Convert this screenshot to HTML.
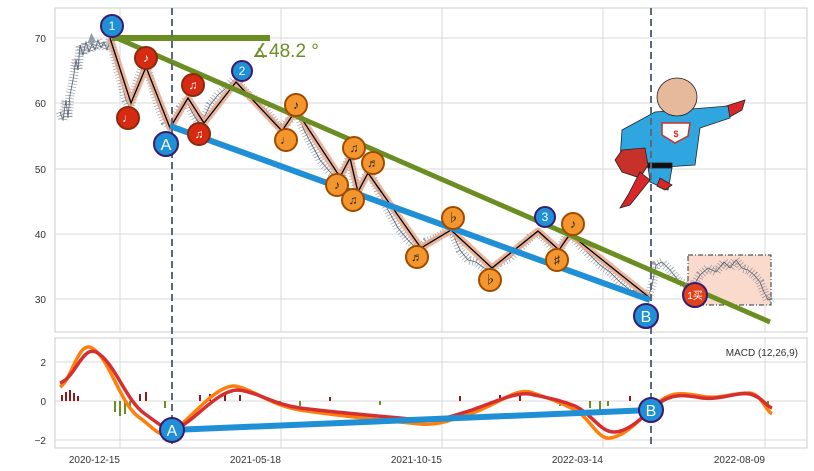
<!DOCTYPE html>
<html><head><meta charset="utf-8"><style>
body{margin:0;background:#fff;}
svg{display:block;font-family:"Liberation Sans","Noto Sans CJK SC",sans-serif;}
</style></head><body>
<svg width="814" height="471" viewBox="0 0 814 471" xmlns="http://www.w3.org/2000/svg">
<rect width="814" height="471" fill="#fff"/>
<rect x="55" y="8" width="752" height="324" fill="#fff" stroke="#ccc"/>
<g stroke="#d9d9d9" stroke-width="1">
<line x1="55" y1="38" x2="807" y2="38"/><line x1="55" y1="103" x2="807" y2="103"/><line x1="55" y1="169" x2="807" y2="169"/><line x1="55" y1="234" x2="807" y2="234"/><line x1="55" y1="299" x2="807" y2="299"/>
<line x1="120" y1="8" x2="120" y2="332"/><line x1="281" y1="8" x2="281" y2="332"/><line x1="442" y1="8" x2="442" y2="332"/><line x1="603" y1="8" x2="603" y2="332"/><line x1="765" y1="8" x2="765" y2="332"/>
</g>
<g font-size="10" fill="#333" text-anchor="end">
<text x="46" y="42">70</text><text x="46" y="107">60</text><text x="46" y="173">50</text><text x="46" y="238">40</text><text x="46" y="303">30</text>
</g>
<rect x="688" y="255" width="83" height="50" fill="#f9dacd" stroke="#333" stroke-dasharray="5,2,1,2"/>
<!-- price -->
<g fill="none" stroke="#556070">
<polyline stroke-width="0.8" points="60,112 63,120 66,100 68,118 70,95 73,80 76,60 78,70 80,45 83,55 86,42 89,52 92,44 95,50 98,40 101,48 104,42 107,50 110,40 114,55 118,70 122,85 126,100 130,108 134,92 138,80 142,68 146,64 150,78 155,95 160,110 165,122 170,126 175,118 180,108 186,100 192,112 198,122 204,118 210,105 218,95 226,88 234,80 240,85 248,95 256,100 264,108 272,118 280,128 288,122 296,110 304,130 312,145 320,160 330,172 340,180 346,165 350,158 354,180 358,190 364,178 370,172 378,190 388,210 398,228 408,240 418,250 426,242 436,238 446,232 452,232 460,250 468,260 476,262 484,268 492,270 500,262 510,258 520,248 530,238 538,232 546,240 554,250 560,248 566,238 572,236 580,245 590,255 600,265 610,272 620,282 630,290 640,292 648,298 652,285 656,265 662,262 670,270 678,280 686,285 694,285 700,275 708,268 716,272 724,262 730,268 736,260 742,268 748,270 754,275 760,282 764,292 768,300 772,298"/>
<polyline stroke-width="9" stroke-dasharray="0.7,2.3" stroke-opacity="0.6" points="60,112 63,120 66,100 68,118 70,95 73,80 76,60 78,70 80,45 83,55 86,42 89,52 92,44 95,50 98,40 101,48 104,42 107,50 110,40 114,55 118,70 122,85 126,100 130,108 134,92 138,80 142,68 146,64 150,78 155,95 160,110 165,122 170,126 175,118 180,108 186,100 192,112 198,122 204,118 210,105 218,95 226,88 234,80 240,85 248,95 256,100 264,108 272,118 280,128 288,122 296,110 304,130 312,145 320,160 330,172 340,180 346,165 350,158 354,180 358,190 364,178 370,172 378,190 388,210 398,228 408,240 418,250 426,242 436,238 446,232 452,232 460,250 468,260 476,262 484,268 492,270 500,262 510,258 520,248 530,238 538,232 546,240 554,250 560,248 566,238 572,236 580,245 590,255 600,265 610,272 620,282 630,290 640,292 648,298 652,285 656,265 662,262 670,270 678,280 686,285 694,285 700,275 708,268 716,272 724,262 730,268 736,260 742,268 748,270 754,275 760,282 764,292 768,300 772,298"/>
</g>
<polyline fill="none" stroke="#e8a98c" stroke-width="7" stroke-opacity="0.85" stroke-linejoin="round" points="110,38 131,103 146,67 170,128 188,98 204,123 236,82 282,131 296,110 340,177 350,158 358,192 368,173 421,248 451,230 492,268 538,231 559,250 570,234 650,298"/>
<polyline fill="none" stroke="#000" stroke-width="1.3" points="110,38 131,103 146,67 170,128 188,98 204,123 236,82 282,131 296,110 340,177 350,158 358,192 368,173 421,248 451,230 492,268 538,231 559,250 570,234 650,298"/>
<line x1="112" y1="38" x2="270" y2="38" stroke="#6b8e23" stroke-width="6"/>
<line x1="112" y1="36" x2="770" y2="322" stroke="#6b8e23" stroke-width="5"/>
<line x1="170" y1="126" x2="650" y2="300" stroke="#1f8fd6" stroke-width="6"/>
<text x="252" y="57" font-size="19" fill="#6b8e23">∡48.2 °</text>
<!-- superdog -->
<g stroke="#222" stroke-width="0.8">
<path d="M720,108 L745,100 L742,110 L728,118 Z" fill="#d8262b"/>
<path d="M655,112 L728,106 L730,118 L700,128 L695,165 L650,168 L620,160 L622,130 Z" fill="#2fa6e0"/>
<path d="M622,150 L645,148 L648,165 L640,178 L622,172 L615,160 Z" fill="#c8302a"/>
<path d="M648,166 L672,168 L668,190 L650,182 Z" fill="#2fa6e0"/>
<path d="M640,172 L628,195 L620,208 L630,205 L650,180 Z" fill="#d8262b"/>
<path d="M660,178 L672,185 L665,190 L657,186 Z" fill="#d8262b"/>
<rect x="648" y="163" width="24" height="5" fill="#111"/>
<path d="M662,123 L690,123 L688,136 L675,143 L662,135 Z" fill="#fff" stroke="#c8302a" stroke-width="1.5"/>
<ellipse cx="677" cy="97" rx="20" ry="19" fill="#e5b99a"/>
</g>
<text x="676" y="137" font-size="9" fill="#c8302a" text-anchor="middle" font-weight="bold">$</text>
<line x1="172" y1="8" x2="172" y2="448" stroke="#5a6a7a" stroke-width="2" stroke-dasharray="7,4"/>
<line x1="651" y1="8" x2="651" y2="448" stroke="#5a6a7a" stroke-width="2" stroke-dasharray="7,4"/>
<!-- markers -->
<g font-size="12" text-anchor="middle" fill="#fff">
<g stroke="#8b2a0a" stroke-width="2" fill="#d62a12">
<circle cx="128" cy="118" r="11"/><circle cx="146" cy="58" r="11"/><circle cx="193" cy="85" r="11"/><circle cx="199" cy="134" r="11"/></g>
<text x="128" y="122">♩</text><text x="146" y="62">♪</text><text x="193" y="89">♫</text><text x="199" y="138">♫</text>
<g stroke="#a04a00" stroke-width="2" fill="#f4962e">
<circle cx="286" cy="140" r="11"/><circle cx="296" cy="105" r="11"/><circle cx="337" cy="185" r="11"/><circle cx="354" cy="148" r="11"/><circle cx="353" cy="200" r="11"/><circle cx="373" cy="163" r="11"/><circle cx="417" cy="257" r="11"/><circle cx="453" cy="218" r="11"/><circle cx="490" cy="280" r="11"/><circle cx="557" cy="260" r="11"/><circle cx="573" cy="224" r="11"/></g>
<g fill="#222"><text x="286" y="144">♩</text><text x="296" y="109">♪</text><text x="337" y="189">♪</text><text x="354" y="152">♫</text><text x="353" y="204">♫</text><text x="373" y="167">♬</text><text x="417" y="261">♬</text><text x="453" y="222">♭</text><text x="490" y="284">♭</text><text x="557" y="264">♯</text><text x="573" y="228">♪</text></g>
<g stroke="#3a1a70" stroke-width="2" fill="#1f8fd6">
<circle cx="112" cy="26" r="11"/><circle cx="242" cy="71" r="10"/><circle cx="545" cy="217" r="10"/><circle cx="166" cy="144" r="12"/><circle cx="646" cy="316" r="12"/></g>
<text x="112" y="30">1</text><text x="242" y="75">2</text><text x="545" y="221">3</text>
<text x="166" y="150" font-size="16">A</text><text x="646" y="322" font-size="16">B</text>
<circle cx="695" cy="295" r="12" fill="#e0401a" stroke="#3a1a70" stroke-width="2"/>
<text x="695" y="299" font-size="10">1买</text>
</g>
<!-- bottom panel -->
<rect x="55" y="338" width="752" height="110" fill="#fff" stroke="#ccc"/>
<g stroke="#d9d9d9">
<line x1="55" y1="362" x2="807" y2="362"/><line x1="55" y1="401" x2="807" y2="401"/><line x1="55" y1="440" x2="807" y2="440"/>
<line x1="120" y1="338" x2="120" y2="448"/><line x1="281" y1="338" x2="281" y2="448"/><line x1="442" y1="338" x2="442" y2="448"/><line x1="603" y1="338" x2="603" y2="448"/><line x1="765" y1="338" x2="765" y2="448"/>
</g>
<line x1="172" y1="338" x2="172" y2="448" stroke="#5a6a7a" stroke-width="2" stroke-dasharray="7,4"/>
<line x1="651" y1="338" x2="651" y2="448" stroke="#5a6a7a" stroke-width="2" stroke-dasharray="7,4"/>
<g font-size="10" fill="#333" text-anchor="end"><text x="46" y="366">2</text><text x="46" y="405">0</text><text x="46" y="444">−2</text></g>
<text x="798" y="356" font-size="10" fill="#333" text-anchor="end">MACD (12,26,9)</text>
<g stroke="#8b1a1a" stroke-width="2">
<line x1="62" y1="401" x2="62" y2="395"/><line x1="66" y1="401" x2="66" y2="392"/><line x1="70" y1="401" x2="70" y2="390"/><line x1="74" y1="401" x2="74" y2="393"/><line x1="78" y1="401" x2="78" y2="396"/><line x1="140" y1="401" x2="140" y2="394"/><line x1="146" y1="401" x2="146" y2="392"/><line x1="200" y1="401" x2="200" y2="395"/><line x1="210" y1="401" x2="210" y2="394"/><line x1="225" y1="401" x2="225" y2="393"/><line x1="240" y1="401" x2="240" y2="395"/><line x1="330" y1="401" x2="330" y2="397"/><line x1="460" y1="401" x2="460" y2="396"/><line x1="500" y1="401" x2="500" y2="395"/><line x1="520" y1="401" x2="520" y2="394"/><line x1="630" y1="401" x2="630" y2="396"/><line x1="665" y1="401" x2="665" y2="396"/>
</g>
<g stroke="#6b8e23" stroke-width="2">
<line x1="115" y1="401" x2="115" y2="412"/><line x1="120" y1="401" x2="120" y2="416"/><line x1="125" y1="401" x2="125" y2="414"/><line x1="130" y1="401" x2="130" y2="408"/><line x1="165" y1="401" x2="165" y2="408"/><line x1="280" y1="401" x2="280" y2="405"/><line x1="300" y1="401" x2="300" y2="406"/><line x1="380" y1="401" x2="380" y2="405"/><line x1="560" y1="401" x2="560" y2="406"/><line x1="590" y1="401" x2="590" y2="408"/><line x1="600" y1="401" x2="600" y2="410"/><line x1="608" y1="401" x2="608" y2="406"/><line x1="768" y1="401" x2="768" y2="410"/>
</g>
<path fill="none" stroke="#ff7f0e" stroke-width="3.5" d="M60,387 C72,380 78,340 92,348 C110,358 120,405 140,418 C152,426 160,440 172,432 C190,420 215,385 235,386 C255,390 270,405 300,410 C340,416 380,420 420,424 C440,426 455,418 470,414 C495,406 515,388 530,392 C548,398 560,402 575,410 C590,418 598,440 610,438 C625,436 640,420 655,405 C670,392 680,392 700,396 C720,400 735,392 750,393 C762,395 765,410 772,414"/>
<path fill="none" stroke="#d62f2f" stroke-width="3.5" d="M60,383 C75,378 82,346 96,352 C115,362 125,400 145,414 C158,423 166,432 178,428 C195,420 218,390 238,390 C258,392 272,404 300,408 C340,413 380,416 420,420 C440,422 458,414 472,410 C495,402 515,392 530,394 C548,398 560,400 575,406 C592,414 600,432 614,432 C628,432 642,418 658,404 C672,393 685,395 702,398 C722,400 735,392 750,394 C762,397 766,406 772,408"/>
<line x1="172" y1="430" x2="651" y2="410" stroke="#1f8fd6" stroke-width="6"/>
<g stroke="#3a1a70" stroke-width="2" fill="#1f8fd6"><circle cx="172" cy="430" r="12"/><circle cx="651" cy="410" r="12"/></g>
<g font-size="16" text-anchor="middle" fill="#fff"><text x="172" y="436">A</text><text x="651" y="416">B</text></g>
<g font-size="10" fill="#333" text-anchor="end">
<text x="120" y="463">2020-12-15</text><text x="281" y="463">2021-05-18</text><text x="442" y="463">2021-10-15</text><text x="603" y="463">2022-03-14</text><text x="765" y="463">2022-08-09</text>
</g>
</svg>
</body></html>
